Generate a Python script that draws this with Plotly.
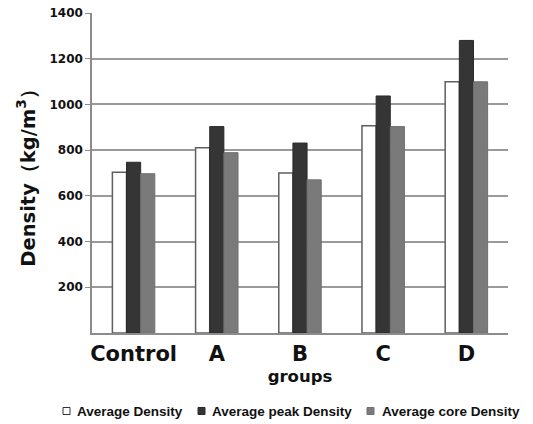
import plotly.graph_objects as go

groups = ["Control", "A", "B", "C", "D"]
avg_density = [703, 811, 700, 907, 1099]
avg_peak_density = [747, 903, 831, 1037, 1280]
avg_core_density = [697, 789, 670, 903, 1099]
y_ticks = [200, 400, 600, 800, 1000, 1200, 1400]
series_names = ["Average Density", "Average peak Density", "Average core Density"]

W, H = 533, 424
L, T = 92, 13
PW, PH = 416, 320
R, B = W - L - PW, H - T - PH

def px(x):  # page pixel -> paper x
    return (x - L) / PW

def py(y):  # page pixel -> paper y
    return (T + PH - y) / PH

BOLD = "DejaVu Sans"
LEG = "Liberation Sans"
fills = ["#ffffff", "#353535", "#7a7a7a"]
edges = ["#5f5f5f", "#2a2a2a", "#707070"]
edge_w = [1.5, 1, 1]

fig = go.Figure()
for name, vals, fc, ec, ew in zip(series_names,
                                  [avg_density, avg_peak_density, avg_core_density],
                                  fills, edges, edge_w):
    fig.add_trace(go.Bar(name=name, x=groups, y=vals,
                         marker=dict(color=fc, line=dict(color=ec, width=ew))))

# compact legend like the reference
leg_y = 411
leg_sq = [63, 198, 367]
leg_tx = [75, 210, 380]
for i, name in enumerate(series_names):
    fig.add_shape(type="rect", xref="paper", yref="paper",
                  x0=px(leg_sq[i]), x1=px(leg_sq[i] + 7),
                  y0=py(leg_y + 3.5), y1=py(leg_y - 3.5),
                  fillcolor=fills[i], line=dict(color=edges[i] if i else "#333333", width=1))
    fig.add_annotation(text=name, xref="paper", yref="paper",
                       x=px(leg_tx[i]), y=py(leg_y), xanchor="left", yanchor="middle",
                       showarrow=False,
                       font=dict(family=LEG, size=13.5, color="#111111", weight="bold"))

fig.update_layout(
    width=W, height=H,
    margin=dict(l=L, r=R, t=T, b=B, autoexpand=False),
    paper_bgcolor="white", plot_bgcolor="white",
    barmode="group", bargap=0.49, bargroupgap=0,
    font=dict(family=BOLD, color="#111111", weight="bold"),
    showlegend=False,
    xaxis=dict(
        showgrid=False, showline=True, linecolor="#8c8c8c", linewidth=1.5,
        tickfont=dict(family=BOLD, size=21, color="#111111", weight="bold"),
        ticks="", ticklabelstandoff=1,
        title=dict(text="groups", font=dict(family=BOLD, size=16.5, color="#111111", weight="bold"), standoff=5),
    ),
    yaxis=dict(
        range=[0, 1400], tickvals=y_ticks,
        showgrid=True, gridcolor="#9a9a9a", gridwidth=1.5,
        showline=True, linecolor="#8c8c8c", linewidth=1.5,
        ticks="outside", ticklen=5, tickcolor="#8c8c8c",
        tickfont=dict(family=BOLD, size=12, color="#111111", weight="bold"),
        zeroline=False,
        title=dict(text="Density（kg/m<sup>3</sup>）", font=dict(family=BOLD, size=19.5, color="#111111", weight="bold"), standoff=9),
    ),
)

# remove the browser's default 8px body margin so the figure sits at the page origin
fig.write_html("out.html", config={"displayModeBar": False},
               post_script="document.body.style.margin='0';")
